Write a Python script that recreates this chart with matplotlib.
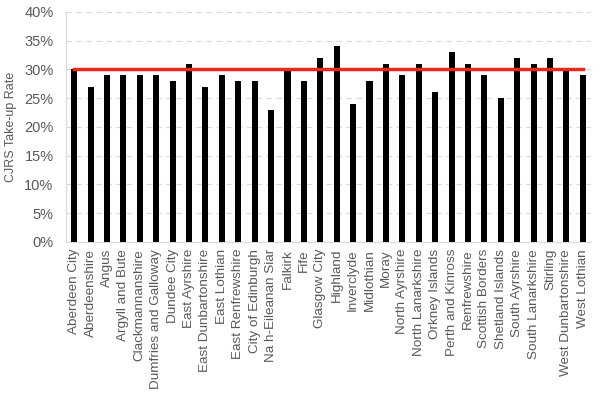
import matplotlib
matplotlib.use("Agg")
from matplotlib import pyplot as plt
from matplotlib.ticker import PercentFormatter

# Council areas and take-up rates (%)
areas = [
    "Aberdeen City", "Aberdeenshire", "Angus", "Argyll and Bute", "Clackmannanshire",
    "Dumfries and Galloway", "Dundee City", "East Ayrshire", "East Dunbartonshire",
    "East Lothian", "East Renfrewshire", "City of Edinburgh", "Na h-Eileanan Siar",
    "Falkirk", "Fife", "Glasgow City", "Highland", "Inverclyde", "Midlothian", "Moray",
    "North Ayrshire", "North Lanarkshire", "Orkney Islands", "Perth and Kinross",
    "Renfrewshire", "Scottish Borders", "Shetland Islands", "South Ayrshire",
    "South Lanarkshire", "Stirling", "West Dunbartonshire", "West Lothian",
]
rates = [30, 27, 29, 29, 29, 29, 28, 31, 27, 29, 28, 28, 23, 30, 28, 32,
         34, 24, 28, 31, 29, 31, 26, 33, 31, 29, 25, 32, 31, 32, 30, 29]
scotland_avg = 30

plt.rcParams['font.family'] = ['Liberation Sans', 'DejaVu Sans']
grey = '#595959'

fig = plt.figure(figsize=(6, 3.96), dpi=100)
ax = fig.add_axes([0.11, 0.389, 0.875, 0.581])

x = list(range(len(areas)))
ax.bar(x, rates, width=0.37, color='black', zorder=3)
ax.plot([x[0], x[-1]], [scotland_avg] * 2, color='#e8291c', linewidth=2.5, zorder=4)

ax.set_xlim(-0.5, len(areas) - 0.5)
ax.set_ylim(0, 40)
ax.set_yticks(range(0, 41, 5))
ax.yaxis.set_major_formatter(PercentFormatter(decimals=0))
ax.grid(axis='y', color='#d9d9d9', linestyle=(0, (5, 4)), linewidth=0.8, zorder=0)

ax.set_xticks(x)
ax.set_xticklabels(areas, rotation=90, fontsize=9.7, color=grey)
ax.tick_params(axis='y', labelsize=10.5, labelcolor=grey, length=0, pad=9)
ax.tick_params(axis='x', length=0, pad=5)
ax.set_ylabel("CJRS Take-up Rate", fontsize=9, color=grey, labelpad=5)

for side in ['top', 'right']:
    ax.spines[side].set_visible(False)
for side in ['left', 'bottom']:
    ax.spines[side].set_color('#d9d9d9')

fig.savefig('out.png', dpi=100)
